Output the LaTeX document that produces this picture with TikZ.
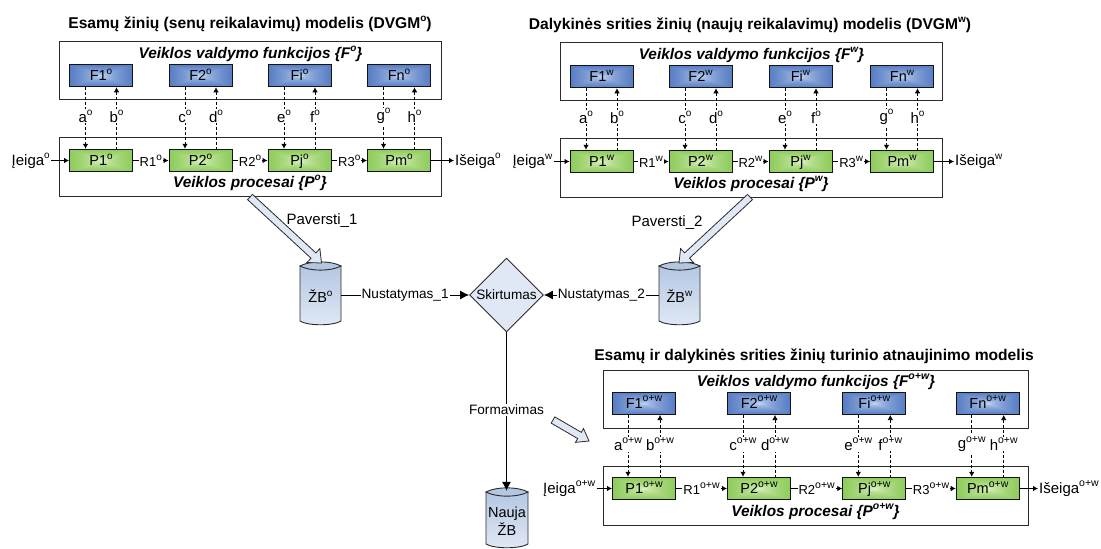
\documentclass[tikz,border=0pt]{standalone}
\usepackage{fontspec}
\setmainfont{Liberation Sans}
\usetikzlibrary{arrows.meta,shapes.geometric,calc}
\definecolor{edgec}{HTML}{141414}
\definecolor{lineC}{HTML}{2B2B2B}
\definecolor{cylTop}{HTML}{B4C7E2}
\definecolor{blockC}{HTML}{E0E8F5}
\pgfdeclarefunctionalshading{rectblue}{\pgfpointorigin}{\pgfpoint{100bp}{100bp}}{}{
  50 sub abs exch 50 sub abs 2 copy lt {exch} if pop 50 div sqrt
  dup -0.70 mul 0.84 add exch
  dup -0.58 mul 0.90 add exch
  -0.30 mul 0.98 add
}
\pgfdeclarefunctionalshading{rectgreen}{\pgfpointorigin}{\pgfpoint{100bp}{100bp}}{}{
  50 sub abs exch 50 sub abs 2 copy lt {exch} if pop 50 div sqrt
  dup -0.53 mul 0.93 add exch
  dup -0.26 mul 0.98 add exch
  -0.70 mul 0.85 add
}
\def\supsz{10}
\newcommand{\sups}[1]{\raisebox{0.45em}{\fontsize{\supsz}{\supsz}\selectfont #1}}
\newcommand{\fs}[1]{\fontsize{#1}{#1}\selectfont}
\tikzset{
  outerbox/.style={draw=lineC,line width=1pt,fill=white},
  fbox/.style={draw=edgec,line width=1pt,shade,shading=rectblue,inner sep=0pt,text height=10.5pt,text depth=0pt,font=\fs{14.5}},
  pbox/.style={draw=edgec,line width=1pt,shade,shading=rectgreen,inner sep=0pt,text height=10.5pt,text depth=0pt,font=\fs{14.5}},
  dashplain/.style={draw=black,line width=.7pt,dash pattern=on 3pt off 2pt},
  dashtip/.style={-{Latex[length=5pt,width=5.5pt]}},
  flowconn/.style={draw=black,line width=.8pt,-{Latex[length=5pt,width=5.5pt]}},
  bigconn/.style={draw=black,line width=.8pt,-{Latex[length=9pt,width=9pt]}},
  lab/.style={font=\fs{15},fill=white,inner sep=1pt},
  rlab/.style={font=\fs{13},fill=white,inner sep=1pt},
  midlab/.style={font=\fs{13.6},fill=white,inner sep=1pt},
  plainlab/.style={font=\fs{15},inner sep=1pt},
  heading/.style={font=\fs{15.4}\bfseries\itshape,inner sep=0pt},
  titlelab/.style={font=\fs{15.6}\bfseries,inner sep=0pt},
  cylbody/.style={draw=lineC,line width=.9pt,top color=cylTop,bottom color=blockC},
  cyltop/.style={draw=lineC,line width=.9pt,fill=cylTop},
  blockarrow/.style={draw=lineC,line width=.8pt,fill=blockC},
  decision/.style={draw=lineC,line width=.9pt,fill=blockC,shape=diamond,aspect=1,inner sep=0pt,minimum width=74pt,minimum height=74pt,font=\fs{13.6}}
}
% #1 prefix, #2 sup of boxes, #3 sup of a..h, #4 left, #5 right, #6 top, #7 box width, #8 arrow offset
\newcommand{\modelblock}[8]{
  \node[outerbox,minimum width={#5-#4},minimum height=58pt,inner sep=0pt,anchor=north west] (#1Fo) at (#4,#6) {};
  \node[outerbox,minimum width={#5-#4},minimum height=58.5pt,inner sep=0pt,anchor=north west] (#1Po) at ({#4},{#6+96}) {};
  \node[heading] (#1Fh) at ({(#4+#5)/2+.5},{#6+\hyF}) {Veiklos valdymo funkcijos \{F\sups{#2}\}};
  \node[heading] (#1Ph) at ({(#4+#5)/2},{#6+\hyP}) {Veiklos procesai \{P\sups{#2}\}};
  \foreach \fn/\pn/\la/\lb/\xc in {F1/P1/a/b/\xA,F2/P2/c/d/\xB,Fi/Pj/e/f/\xC,Fn/Pm/g/h/\xD}{
    \node[fbox,minimum width=#7,minimum height=22.5pt] (#1\fn) at (\xc,{#6+\fyy}) {\fn\sups{#2}};
    \node[pbox,minimum width=#7,minimum height=22.5pt] (#1\pn) at (\xc,{#6+\pyy}) {\pn\sups{#2}};
    \draw[dashplain,dashtip] ([xshift=-#8]#1\fn.south) -- ([xshift=-#8]#1\pn.north)
      node[lab,pos=.47] (#1\la) {\la\sups{#3}};
    \draw[dashplain,{Latex[length=5pt,width=5.5pt]}-] ([xshift=#8]#1\fn.south) -- ([xshift=#8]#1\pn.north)
      node[lab,pos=.47] (#1\lb) {\lb\sups{#3}};
  }
  \node[plainlab,anchor=east] (#1In) at (\inE,{#6+\pyy}) {Įeiga\sups{#2}};
  \node[plainlab,anchor=west] (#1Out) at (\outW,{#6+\pyy}) {Išeiga\sups{#2}};
  \draw[flowconn] (#1In.east |- #1P1.west) -- (#1P1.west);
  \draw[flowconn] (#1Pm.east) -- (#1Out.west |- #1Pm.east);
  \draw[flowconn] (#1P1.east) -- node[rlab] (#1R1) {R1\sups{#2}} (#1P2.west);
  \draw[flowconn] (#1P2.east) -- node[rlab] (#1R2) {R2\sups{#2}} (#1Pj.west);
  \draw[flowconn] (#1Pj.east) -- node[rlab] (#1R3) {R3\sups{#2}} (#1Pm.west);
}
% #1 name, #2 left, #3 right, #4 top, #5 bottom, #6 text
\newcommand{\dbcyl}[6]{
  \draw[cylbody] (#2,{#4+4}) -- (#2,{#5-4}) .. controls ({#2+8},{#5+1}) and ({#3-8},{#5+1}) .. (#3,{#5-4}) -- (#3,{#4+4}) -- cycle;
  \draw[cyltop] (#2,{#4+4}) .. controls ({#2+10},{#4-1.5}) and ({#3-10},{#4-1.5}) .. (#3,{#4+4})
     .. controls ({#3-10},{#4+9.5}) and ({#2+10},{#4+9.5}) .. cycle;
  \node[font=\fs{14.5},align=center,inner sep=0pt,minimum width={#3-#2},minimum height={#5-#4}] (#1) at ({(#2+#3)/2},{(#4+#5)/2+3}) {#6};
}
% #1 start, #2 tip, #3 head half width
\newcommand{\hollowarrow}[3]{
  \coordinate (hb) at ($(#2)!11pt!(#1)$);
  \draw[blockarrow] ($(#1)!3.6pt!90:(#2)$) -- ($(hb)!3.6pt!90:(#2)$) -- ($(hb)!#3!90:(#2)$) -- (#2)
     -- ($(hb)!#3!-90:(#2)$) -- ($(hb)!3.6pt!-90:(#2)$) -- ($(#1)!3.6pt!-90:(#2)$) -- cycle;
}
\begin{document}
\begin{tikzpicture}[x=1pt,y=-1pt]
\useasboundingbox (0,0) rectangle (1101,549);
\fill[white] (0,0) rectangle (1101,549);

\node[titlelab] (t1) at (250,24) {Esamų žinių (senų reikalavimų) modelis (DVGM\sups{o})};
\node[titlelab] (t2) at (750,25) {Dalykinės srities žinių (naujų reikalavimų) modelis (DVGM\sups{w})};
\node[titlelab] (t3) at (814,356) {Esamų ir dalykinės srities žinių turinio atnaujinimo modelis};

% model 1
\def\hyF{13}\def\hyP{142}\def\fyy{34.5}\def\pyy{119.5}
\def\xA{101}\def\xB{200.5}\def\xC{299.5}\def\xD{399}\def\inE{51}\def\outW{454}
\modelblock{o}{o}{o}{59}{441}{41}{63pt}{15.5pt}
% model 2
\def\xA{601.5}\def\xB{700.5}\def\xC{800.5}\def\xD{902}\def\inE{553.5}\def\outW{954}
\modelblock{w}{w}{o}{560}{942}{42}{63pt}{15.5pt}
% model 3
\def\supsz{10.5}
\def\hyF{11.7}\def\hyP{141.7}\def\fyy{33.25}\def\pyy{118.5}
\def\xA{644}\def\xB{759}\def\xC{874.3}\def\xD{987.7}\def\inE{596.5}\def\outW{1038}
\modelblock{n}{o+w}{o+w}{603}{1028}{370}{63pt}{16pt}
\def\supsz{10}

\dbcyl{zbo}{300}{341}{262}{325}{ŽB\sups{o}}
\dbcyl{zbw}{659}{700}{262}{325}{ŽB\sups{w}}
\dbcyl{zbn}{486}{528}{488}{548}{Nauja\\[1pt]ŽB}
\node[decision] (dia) at (506.5,295) {Skirtumas};

\draw[bigconn] (zbo.east |- dia.west) -- node[midlab] (nu1) {Nustatymas\_1} (dia.west);
\draw[bigconn] (zbw.west |- dia.east) -- node[midlab] (nu2) {Nustatymas\_2} (dia.east);
\draw[bigconn] (dia.south) -- node[midlab,pos=.49] (form) {Formavimas} (dia.south |- zbn.north);

\coordinate (a1s) at (250,197); \coordinate (a1t) at (321.5,263);
\coordinate (a2s) at (750,197); \coordinate (a2t) at (679,263);
\coordinate (a3s) at (553,420); \coordinate (a3t) at (589,441);
\hollowarrow{a1s}{a1t}{9.5pt}
\hollowarrow{a2s}{a2t}{9.5pt}
\hollowarrow{a3s}{a3t}{8pt}
\node[plainlab] (pv1) at (322,221) {Paversti\_1};
\node[plainlab] (pv2) at (667,223) {Paversti\_2};
\end{tikzpicture}
\end{document}
